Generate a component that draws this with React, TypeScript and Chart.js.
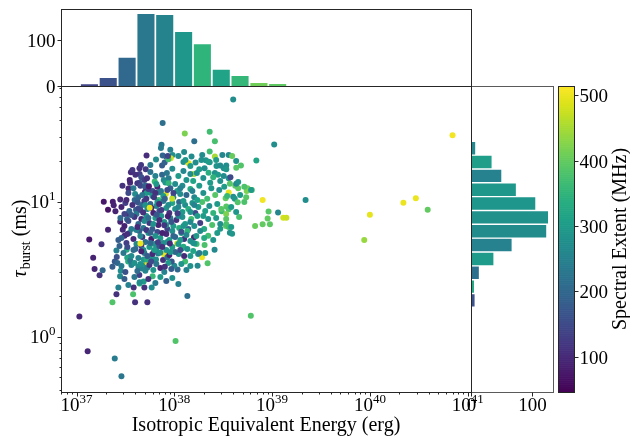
import React, { useEffect, useRef } from "react";
import { Chart, registerables } from "chart.js";

Chart.register(...registerables);

// ---------------- data ----------------
// [isotropic equivalent energy (erg), tau_burst (ms), spectral extent (MHz)]
const bursts: [number, number, number][] = [
  [40e37, 57, 275], [7.6e37, 38.3, 215], [12.8e37, 32, 420], [23e37, 33, 370], [16e37, 28, 215],
  [26e37, 28, 375], [105e37, 26.5, 275], [5.2e37, 22, 105], [7.4e37, 26.4, 235], [7.3e37, 25.0, 240],
  [23e37, 23.5, 370], [9.6e37, 22.2, 280], [11e37, 21.8, 270], [9.2e37, 21, 480], [6.5e37, 20.5, 270],
  [7.6e37, 22, 200], [8.3e37, 21.5, 190], [26e37, 21.6, 450], [31e37, 22.2, 260], [36e37, 22.2, 265],
  [39e37, 21.8, 405], [69e37, 20.2, 320], [12.4e37, 19.7, 280], [14e37, 19.3, 490], [16.5e37, 19.5, 275],
  [21e37, 20.3, 285], [23e37, 19.6, 300], [27e37, 18.4, 290], [48e37, 18.5, 385], [43e37, 17.8, 390],
  [32e37, 17.7, 280], [29.5e37, 18.5, 270], [3.6e37, 16.5, 100], [4.4e37, 17.7, 110], [5.1e37, 17.4, 125],
  [15.9e37, 16.0, 455], [36e37, 14.9, 280], [42e37, 13.1, 390], [45e37, 12.6, 395], [56e37, 12.6, 410],
  [62e37, 12.2, 380], [55e37, 12.0, 420], [80e37, 10.3, 505], [220e37, 10.3, 275], [115e37, 8.3, 260],
  [92e37, 8.45, 390], [90e37, 7.5, 400], [95e37, 6.8, 395], [130e37, 7.6, 480], [140e37, 7.6, 475],
  [67e37, 6.6, 405], [80e37, 6.8, 400], [46e37, 7.7, 380], [29.5e37, 6.3, 300], [37e37, 5.9, 280],
  [39e37, 5.8, 290], [3.4e37, 12.5, 95], [1.9e37, 10.0, 75], [2.35e37, 10.0, 85], [2.8e37, 10.4, 100],
  [2.4e37, 9.4, 90], [2.1e37, 8.7, 70], [2.5e37, 8.5, 90], [2.8e37, 7.1, 95], [2.1e37, 6.2, 90],
  [1.35e37, 5.25, 75], [1.8e37, 4.84, 110], [1.48e37, 3.85, 90], [1.53e37, 3.18, 95], [1.72e37, 2.85, 110],
  [1.85e37, 3.1, 200], [1.07e37, 1.41, 95], [1.3e37, 0.78, 95], [2.46e37, 0.69, 240], [2.88e37, 0.51, 230],
  [2.33e37, 1.8, 385], [2.56e37, 2.06, 110], [2.68e37, 2.31, 250], [3.84e37, 2.31, 110], [3.79e37, 2.06, 380],
  [3.97e37, 1.8, 110], [4.94e37, 2.31, 110], [5.3e37, 1.8, 110], [5.87e37, 2.31, 270], [4.42e37, 2.48, 330],
  [4.86e37, 2.56, 300], [10.3e37, 0.93, 385], [13.6e37, 2.0, 215], [60.6e37, 1.43, 385],
  [7.0e40, 31, 505], [1.0e40, 8.0, 495], [8.75e39, 5.2, 440], [2.2e40, 9.8, 500], [2.95e40, 10.6, 500],
  [3.9e40, 8.7, 400],
  [2.97e37, 6.2, 100], [3.1e37, 5.6, 105], [2.33e37, 3.3, 180], [2.46e37, 3.6, 175], [2.58e37, 3.9, 160],
  [2.56e37, 4.35, 250], [2.83e37, 3.08, 270], [2.79e37, 2.8, 265], [3.26e37, 4.4, 330], [3.47e37, 3.88, 60],
  [3.3e37, 3.85, 320], [3.37e37, 3.6, 340], [4.39e37, 2.86, 130], [4.42e37, 2.53, 270], [5.06e37, 3.08, 260],
  [6.0e37, 2.8, 360], [4.3e37, 3.3, 270], [4.7e37, 3.2, 250], [5.0e37, 3.4, 280], [5.3e37, 3.25, 240],
  [5.3e37, 3.55, 490], [3.64e37, 3.4, 250], [3.55e37, 3.67, 230], [4.5e37, 3.45, 280], [4.86e37, 3.73, 300],
  [5.22e37, 3.73, 330], [5.92e37, 3.85, 290], [6.2e37, 4.3, 300], [7.85e37, 4.08, 495], [7.67e37, 3.7, 110],
  [6.5e37, 3.73, 270], [6.82e37, 4.14, 250], [7.2e37, 4.2, 280],
  [19.2e37, 3.88, 500], [21.9e37, 3.5, 385], [17.3e37, 3.35, 265], [25.8e37, 4.4, 265], [12.9e37, 3.6, 370],
  [10.8e37, 3.15, 200], [10e37, 3.35, 260], [9.4e37, 3.6, 170], [8.5e37, 3.88, 220], [11.1e37, 4.1, 280],
  [12e37, 4.5, 300], [12.4e37, 4.64, 330], [17.5e37, 4.1, 280], [18e37, 4.17, 240], [16.9e37, 4.85, 370],
  [16.1e37, 4.9, 300], [20.4e37, 4.77, 380], [22.2e37, 5.6, 370], [15.9e37, 5.45, 100], [10.7e37, 4.9, 480],
  [33.7e37, 6.6, 400],
  [4.57e37, 18.7, 120], [7.5e37, 18.5, 180], [7.96e37, 19.5, 190], [8.7e37, 20.6, 370], [4.42e37, 16.0, 130],
  [4.6e37, 15.2, 160], [4.94e37, 14.5, 130], [5.26e37, 14.9, 110], [4.42e37, 13.8, 170], [4.19e37, 13.7, 120],
  [4.5e37, 13.1, 140], [5.06e37, 13.2, 200], [5.06e37, 12.8, 180], [3.53e37, 13.8, 100], [3.97e37, 11.4, 270],
  [6.3e37, 14.1, 360], [7.5e37, 15.8, 200], [8.4e37, 16.3, 230], [7.8e37, 14.5, 260], [8.75e37, 14.9, 240],
  [8.1e37, 13.9, 290], [8.75e37, 13.7, 350], [8.2e37, 11.4, 490], [3.34e37, 8.1, 110], [3.29e37, 7.4, 200],
  [3.93e37, 10.3, 200], [4.22e37, 9.9, 170], [4.06e37, 8.7, 180], [4.32e37, 8.95, 150], [4.68e37, 9.45, 200],
  [5.0e37, 11.8, 100], [5.2e37, 11.6, 300], [5.7e37, 11.7, 280], [6.0e37, 12.0, 160], [6.8e37, 11.7, 310],
  [7.3e37, 12.0, 250], [6.9e37, 10.3, 370],
  [8.6e37, 21.8, 140], [15e37, 21.6, 270], [18.9e37, 20.4, 280], [22.4e37, 19.8, 300], [13e37, 20.4, 290],
  [34e37, 18.5, 270], [34e37, 17.4, 290], [17e37, 16.3, 280], [18e37, 17.4, 300], [20.4e37, 17.7, 270],
  [22.4e37, 16.4, 340], [26e37, 16.3, 280], [28e37, 15.8, 300], [32e37, 15.5, 270], [37.5e37, 15.2, 150],
  [43e37, 13.6, 260], [45e37, 14.0, 280], [37e37, 13.6, 390], [52e37, 12.9, 380], [61e37, 12.2, 300],
  [36e37, 11.7, 495], [40e37, 10.9, 270], [41.5e37, 10.5, 290], [33.5e37, 10.6, 400], [52e37, 9.95, 380],
  [44.5e37, 9.9, 385], [34e37, 9.2, 390], [36e37, 8.8, 380], [30.5e37, 8.5, 360], [34e37, 6.8, 380],
  [36e37, 6.5, 370],
  [2.95e37, 13.1, 110], [3.39e37, 11.6, 150], [3.82e37, 12.6, 230], [4.29e37, 10.8, 200], [5.43e37, 12.4, 130],
  [5.96e37, 11.0, 290], [6.71e37, 12.9, 100], [7.2e37, 11.8, 230], [9.1e37, 12.6, 190], [9.77e37, 10.8, 260],
  [10.7e37, 12.0, 300], [12.1e37, 13.1, 270], [13.3e37, 11.2, 200], [14.6e37, 12.4, 330], [16e37, 10.8, 260],
  [18e37, 13.1, 300], [19.8e37, 11.6, 280], [21.7e37, 10.5, 370], [23.9e37, 12.6, 290], [26.2e37, 11.2, 390],
  [28.8e37, 12.2, 270], [32.4e37, 12.9, 300], [34.7e37, 11.0, 360], [47.1e37, 11.2, 300], [54.3e37, 10.8, 390],
  [2.88e37, 9.14, 90], [3.16e37, 9.78, 130], [3.47e37, 8.54, 200], [3.73e37, 9.45, 110], [4.1e37, 8.11, 240],
  [4.94e37, 10.1, 120], [5.3e37, 8.83, 270], [5.69e37, 9.61, 200], [6.1e37, 8.25, 90], [6.55e37, 9.29, 260],
  [7.03e37, 8.54, 160], [7.72e37, 10.1, 230], [8.28e37, 8.98, 290], [8.89e37, 8.25, 110], [9.54e37, 9.78, 320],
  [10.2e37, 8.83, 280], [11.2e37, 9.95, 200], [12.1e37, 8.4, 300], [12.9e37, 9.45, 270], [13.9e37, 8.83, 340],
  [15.3e37, 9.78, 290], [16.4e37, 8.25, 150], [17.6e37, 9.14, 300], [19.3e37, 9.95, 380], [20.7e37, 8.54, 310],
  [22.8e37, 9.29, 280], [25e37, 8.25, 350], [27.5e37, 9.61, 300], [30.2e37, 8.83, 390], [33.9e37, 8.11, 420],
  [38.2e37, 9.14, 300], [42.9e37, 8.4, 290],
  [2.81e37, 7.57, 210], [3.09e37, 6.61, 90], [3.39e37, 7.2, 160], [3.64e37, 6.28, 240], [3.91e37, 7.7, 120],
  [4.29e37, 6.84, 200], [4.6e37, 7.45, 100], [4.83e37, 6.39, 230], [5.18e37, 7.84, 280], [5.56e37, 6.96, 120],
  [5.96e37, 6.28, 180], [6.4e37, 7.57, 300], [6.87e37, 6.72, 90], [7.37e37, 7.84, 280], [7.9e37, 7.08, 290],
  [8.48e37, 6.28, 140], [9.1e37, 7.57, 230], [9.77e37, 6.61, 300], [10.5e37, 7.32, 110], [11.2e37, 6.39, 340],
  [12.1e37, 7.7, 280], [12.9e37, 6.84, 300], [13.9e37, 6.28, 200], [14.9e37, 7.45, 370], [16e37, 6.61, 280],
  [17.2e37, 7.84, 300], [18.4e37, 6.96, 130], [20.2e37, 6.28, 330], [22.2e37, 7.45, 280], [24.4e37, 6.72, 380],
  [26.8e37, 7.57, 300], [29.5e37, 6.84, 280], [33.9e37, 7.45, 390], [38.2e37, 6.5, 300],
  [2.88e37, 5.39, 200], [3.24e37, 4.95, 130], [3.47e37, 5.87, 240], [3.82e37, 5.3, 100], [4.1e37, 4.86, 260],
  [4.39e37, 6.07, 180], [4.71e37, 5.48, 110], [5.06e37, 5.03, 220], [5.43e37, 5.87, 290], [5.82e37, 5.3, 80],
  [6.25e37, 4.86, 280], [6.71e37, 5.97, 150], [7.2e37, 5.39, 300], [7.72e37, 4.95, 270], [8.28e37, 5.77, 100],
  [8.89e37, 5.21, 310], [9.54e37, 6.07, 280], [10.2e37, 5.48, 190], [11e37, 4.86, 290], [11.8e37, 5.87, 300],
  [12.6e37, 5.3, 120], [13.6e37, 6.07, 350], [14.6e37, 5.12, 280], [16.8e37, 5.57, 300], [18.4e37, 6.07, 270],
  [20.2e37, 5.39, 330], [25e37, 5.21, 290], [27.5e37, 5.87, 300],
  [2.75e37, 4.7, 190], [3.02e37, 4.17, 230], [3.31e37, 4.62, 150], [3.64e37, 3.96, 270], [4.0e37, 4.46, 200],
  [4.29e37, 3.83, 250], [4.6e37, 4.7, 130], [4.94e37, 4.17, 220], [5.56e37, 4.62, 300], [5.96e37, 4.1, 100],
  [6.55e37, 4.46, 280], [7.03e37, 4.7, 170], [8.28e37, 4.39, 290], [8.89e37, 4.03, 90], [9.54e37, 4.62, 300],
  [10.2e37, 4.24, 200], [13.6e37, 4.46, 280], [14.6e37, 3.96, 300], [15.6e37, 4.31, 320], [20.7e37, 4.17, 290],
  [2.62e37, 3.52, 200], [2.88e37, 3.34, 240], [3.16e37, 3.02, 160], [3.91e37, 3.52, 280], [4.19e37, 3.07, 210],
  [5.56e37, 3.4, 120], [6.1e37, 3.12, 290], [6.55e37, 3.46, 230], [7.2e37, 3.23, 90], [7.9e37, 3.02, 250],
  [8.68e37, 3.52, 300], [9.32e37, 3.17, 180], [11.8e37, 3.46, 290], [13.3e37, 3.12, 250], [14.6e37, 3.34, 280],
  [3.09e37, 2.68, 180], [3.39e37, 2.42, 250], [3.91e37, 2.77, 230], [5.43e37, 2.68, 110], [6.4e37, 2.5, 240],
  [7.2e37, 2.77, 300], [8.28e37, 2.59, 190], [9.54e37, 2.72, 280], [11e37, 2.46, 250],
  [3.73e37, 17.2, 120], [5.69e37, 16.6, 220], [6.4e37, 15.5, 250], [9.54e37, 17.5, 270], [11e37, 15.5, 300],
  [12.4e37, 16.9, 260], [13.3e37, 14.5, 290], [14.6e37, 16.0, 270], [15.6e37, 14.2, 320], [19.8e37, 15.0, 280],
  [23.3e37, 13.8, 300], [25e37, 15.2, 350], [29.5e37, 14.2, 280], [6.55e37, 13.5, 300], [10.2e37, 13.5, 270],
  [11.5e37, 12.6, 250],
  [9.1e37, 24.2, 250], [12.6e37, 23.3, 270], [14.6e37, 18.4, 300], [19.3e37, 22.2, 270], [26.8e37, 20.4, 300],
  [42.9e37, 20.0, 280], [5.69e37, 18.7, 240],
  [4.71e37, 11.2, 230], [5.18e37, 10.5, 120], [6.4e37, 11.6, 110], [7.72e37, 11.0, 300], [8.48e37, 12.2, 150],
  [11.5e37, 11.4, 270], [15.3e37, 12.0, 250], [17.2e37, 10.3, 310], [4.5e37, 8.68, 150], [5.06e37, 9.45, 280],
  [5.82e37, 8.98, 90], [6.71e37, 9.95, 290], [7.37e37, 8.68, 130], [8.68e37, 9.45, 270], [11e37, 9.14, 260],
  [12.4e37, 10.1, 300], [14.6e37, 8.4, 280], [16e37, 9.45, 250], [4.94e37, 7.2, 270], [5.43e37, 7.57, 210],
  [6.1e37, 6.84, 280], [7.03e37, 7.32, 100], [8.28e37, 6.72, 300], [9.32e37, 7.08, 170], [11e37, 7.84, 250],
  [12.4e37, 6.61, 290], [14.6e37, 7.08, 260], [19.8e37, 7.84, 300], [4.5e37, 5.57, 260], [5.18e37, 6.17, 120],
  [5.69e37, 4.95, 200], [6.4e37, 5.57, 280], [7.54e37, 5.87, 90], [8.48e37, 5.03, 280], [9.77e37, 5.57, 200],
  [11.5e37, 5.21, 300], [13.3e37, 5.67, 260], [15.6e37, 4.95, 280], [4.83e37, 4.39, 270], [5.3e37, 3.96, 180],
  [6.25e37, 4.39, 300], [7.54e37, 4.62, 110], [9.1e37, 4.24, 290], [11.5e37, 4.39, 150], [12.6e37, 3.96, 100],
  [3.24e37, 10.3, 100], [3.64e37, 7.97, 180], [3.31e37, 5.77, 110], [3.82e37, 4.39, 210], [4.1e37, 6.17, 250],
  [3.09e37, 8.11, 140], [2.68e37, 5.21, 180],
  [3.5e37, 14.5, 90], [4.0e37, 15.8, 110], [5.5e37, 13.0, 80], [6.2e37, 10.8, 120], [7.0e37, 9.6, 100],
  [8.0e37, 10.5, 190], [9.8e37, 11.6, 140], [4.8e37, 8.3, 110], [6.6e37, 8.0, 170], [8.6e37, 7.8, 90],
  [10.8e37, 8.2, 130], [4.2e37, 6.5, 100], [5.7e37, 5.9, 190], [7.9e37, 6.7, 120], [11.8e37, 6.0, 160],
  [4.6e37, 4.3, 90], [6.8e37, 5.0, 130], [9.0e37, 4.9, 100], [5.8e37, 3.6, 150], [8.0e37, 3.3, 110],
  [5.6e37, 9.0, 495], [9.5e37, 10.5, 470], [4.5e37, 4.9, 500],
];

// top histogram (log-spaced energy bins)
const energyBinCenters = [
  1.355e37, 2.11e37, 3.29e37, 5.13e37, 7.98e37, 1.245e38, 1.936e38, 3.02e38, 4.7e38, 7.33e38,
  1.14e39, 1.78e39, 2.75e39, 4.37e39, 6.76e39, 1.05e40, 1.62e40, 2.57e40, 3.98e40, 6.17e40,
];
const energyCounts = [5, 19, 63, 158, 156, 119, 92, 37, 23, 8, 6, 0, 0, 0, 0, 0, 0, 0, 0, 0];
const energyBinColors = [
  "#414487", "#3b528b", "#31688e", "#2a788e", "#25838e", "#1f978b", "#2fb47c", "#20a386", "#35b779", "#6ece58",
  "#5ec962", "#21918c", "#21918c", "#21918c", "#21918c", "#c2df23", "#21918c", "#fde725", "#addc30", "#fde725",
];

// right histogram (log-spaced tau bins)
const tauBinCenters = [
  0.57, 0.723, 0.914, 1.159, 1.466, 1.858, 2.35, 2.979, 3.767, 4.775,
  6.039, 7.656, 9.683, 12.27, 15.52, 19.68, 24.89, 31.55, 39.9, 50.58,
];
const tauCounts = [2, 2, 1, 0, 2, 7, 6, 14, 38, 68, 125, 128, 107, 75, 51, 35, 8, 2, 1, 1];
const tauBinColors = [
  "#2c728e", "#3b528b", "#5ec962", "#21918c", "#7ad151", "#3b528b", "#22a884", "#2d708e", "#1e9b8a", "#26828e",
  "#228c8d", "#21918c", "#1f968b", "#1f988b", "#26828e", "#1f9e89", "#23898e", "#b5de2b", "#2a788e", "#21918c",
];

const xTickExponents = [37, 38, 39, 40, 41];
const yTickExponents = [0, 1];
const histTicks = [0, 100];
const colorbarTicks = [100, 200, 300, 400, 500];

// axis ranges
const E_MIN = 6.94e36;
const E_MAX = 1.081e41;
const TAU_MIN = 0.3896;
const TAU_MAX = 71.9;
const TOP_COUNT_MAX = 167.4;
const SIDE_COUNT_MAX = 135.1;
const EXT_MIN = 46;
const EXT_MAX = 514;

// ---------------- layout / style ----------------
const W = 630;
const H = 437;
type Box = { left: number; top: number; right: number; bottom: number };
const MAIN: Box = { left: 61, top: 86, right: 471, bottom: 392 };
const TOP: Box = { left: 61, top: 9, right: 471, bottom: 86 };
const SIDE: Box = { left: 471, top: 86, right: 553, bottom: 392 };
const CBAR: Box = { left: 558, top: 86, right: 574, bottom: 392 };

const SERIF = '"Liberation Serif", "Times New Roman", Times, serif';
const TICK_FONT = 19;
const SUP_FONT = 13;
const LABEL_FONT = 20;
const FRAME = "#262626";

const pad = (b: Box) => ({ left: b.left, top: b.top, right: W - b.right, bottom: H - b.bottom });

const VIRIDIS = [
  "#440154", "#48186a", "#472d7b", "#424086", "#3b528b", "#33638d", "#2c728e", "#26828e", "#21918c",
  "#1fa088", "#28ae80", "#3fbc73", "#5ec962", "#84d44b", "#addc30", "#d8e219", "#fde725",
];
function hexRgb(h: string) {
  return [parseInt(h.slice(1, 3), 16), parseInt(h.slice(3, 5), 16), parseInt(h.slice(5, 7), 16)];
}
function viridis(t: number): string {
  const tt = Math.max(0, Math.min(1, t));
  const n = VIRIDIS.length - 1;
  const i = Math.min(n - 1, Math.floor(tt * n));
  const f = tt * n - i;
  const a = hexRgb(VIRIDIS[i]);
  const b = hexRgb(VIRIDIS[i + 1]);
  const c = a.map((v, k) => Math.round(v + (b[k] - v) * f));
  return `rgb(${c[0]},${c[1]},${c[2]})`;
}
const extColor = (v: number) => viridis((v - EXT_MIN) / (EXT_MAX - EXT_MIN));

function seg(ctx: CanvasRenderingContext2D, x1: number, y1: number, x2: number, y2: number) {
  ctx.beginPath();
  ctx.moveTo(x1, y1);
  ctx.lineTo(x2, y2);
  ctx.stroke();
}
const crisp = (v: number) => Math.round(v) + 0.5;

function drawPow(ctx: CanvasRenderingContext2D, exp: string, x: number, baseline: number, align: "center" | "right") {
  ctx.font = `${TICK_FONT}px ${SERIF}`;
  const bw = ctx.measureText("10").width;
  ctx.font = `${SUP_FONT}px ${SERIF}`;
  const ew = ctx.measureText(exp).width;
  const total = bw + ew;
  const x0 = align === "center" ? x - total / 2 : x - total;
  ctx.textAlign = "left";
  ctx.textBaseline = "alphabetic";
  ctx.font = `${TICK_FONT}px ${SERIF}`;
  ctx.fillText("10", x0, baseline);
  ctx.font = `${SUP_FONT}px ${SERIF}`;
  ctx.fillText(exp, x0 + bw, baseline - 8);
}

function frame(ctx: CanvasRenderingContext2D, a: { left: number; top: number; right: number; bottom: number }, color = FRAME) {
  ctx.strokeStyle = color;
  ctx.lineWidth = 1;
  ctx.strokeRect(crisp(a.left), crisp(a.top), Math.round(a.right) - Math.round(a.left), Math.round(a.bottom) - Math.round(a.top));
}

const mainAxesPlugin = {
  id: "mainAxes",
  afterDraw(chart: any) {
    const { ctx, chartArea: a } = chart;
    const xs = chart.scales.x;
    const ys = chart.scales.y;
    ctx.save();
    frame(ctx, a);
    ctx.fillStyle = "#000";
    ctx.strokeStyle = FRAME;
    const B = crisp(a.bottom);
    const L = crisp(a.left);
    for (let e = 36; e <= 41; e++) {
      for (let m = 1; m <= 9; m++) {
        const v = m * Math.pow(10, e);
        if (v < xs.min * 0.999 || v > xs.max * 1.001) continue;
        const px = crisp(xs.getPixelForValue(v));
        seg(ctx, px, B, px, B + (m === 1 ? 4 : 2));
      }
    }
    xTickExponents.forEach((e) => {
      const px = xs.getPixelForValue(Math.pow(10, e));
      drawPow(ctx, String(e), px, 411, "center");
    });
    for (let e = -1; e <= 1; e++) {
      for (let m = 1; m <= 9; m++) {
        const v = m * Math.pow(10, e);
        if (v < ys.min || v > ys.max) continue;
        const py = crisp(ys.getPixelForValue(v));
        seg(ctx, L - (m === 1 ? 4 : 2), py, L, py);
      }
    }
    yTickExponents.forEach((e) => {
      const py = ys.getPixelForValue(Math.pow(10, e));
      drawPow(ctx, String(e), L - 6, py + 6.5, "right");
    });
    // x title
    ctx.font = `${LABEL_FONT}px ${SERIF}`;
    ctx.textAlign = "center";
    ctx.textBaseline = "alphabetic";
    ctx.fillText("Isotropic Equivalent Energy (erg)", (a.left + a.right) / 2, 431);
    // y title (tau_burst (ms))
    ctx.save();
    ctx.translate(26, (a.top + a.bottom) / 2);
    ctx.rotate(-Math.PI / 2);
    ctx.textAlign = "left";
    const fTau = `italic ${LABEL_FONT}px ${SERIF}`;
    const fSub = `14px ${SERIF}`;
    const fRest = `${LABEL_FONT}px ${SERIF}`;
    ctx.font = fTau;
    const w1 = ctx.measureText("τ").width;
    ctx.font = fSub;
    const w2 = ctx.measureText("burst").width;
    ctx.font = fRest;
    const w3 = ctx.measureText(" (ms)").width;
    let x0 = -(w1 + w2 + w3) / 2;
    ctx.font = fTau;
    ctx.fillText("τ", x0, 0);
    x0 += w1 + 1;
    ctx.font = fSub;
    ctx.fillText("burst", x0, 4);
    x0 += w2;
    ctx.font = fRest;
    ctx.fillText(" (ms)", x0, 0);
    ctx.restore();
    ctx.restore();
  },
};

const topAxesPlugin = {
  id: "topAxes",
  afterDraw(chart: any) {
    const { ctx, chartArea: a } = chart;
    const ys = chart.scales.y;
    ctx.save();
    frame(ctx, a);
    ctx.fillStyle = "#000";
    ctx.font = `${TICK_FONT}px ${SERIF}`;
    ctx.textAlign = "right";
    ctx.textBaseline = "alphabetic";
    const L = crisp(a.left);
    histTicks.forEach((t) => {
      const py = crisp(ys.getPixelForValue(t));
      seg(ctx, L - 4, py, L, py);
      ctx.fillText(String(t), L - 6, py + 6.5);
    });
    ctx.restore();
  },
};

const sideAxesPlugin = {
  id: "sideAxes",
  afterDraw(chart: any) {
    const { ctx, chartArea: a } = chart;
    const xs = chart.scales.x;
    ctx.save();
    frame(ctx, a, "#5a5a5a");
    ctx.strokeStyle = FRAME;
    seg(ctx, crisp(a.left), a.top - 77, crisp(a.left), a.bottom + 1);
    ctx.fillStyle = "#000";
    ctx.font = `${TICK_FONT}px ${SERIF}`;
    ctx.textAlign = "center";
    ctx.textBaseline = "alphabetic";
    const B = crisp(a.bottom);
    histTicks.forEach((t) => {
      const px = crisp(xs.getPixelForValue(t));
      seg(ctx, px, B, px, B + 4);
      ctx.fillText(String(t), px, 411);
    });
    ctx.restore();
  },
};

const colorbarPlugin = {
  id: "colorbar",
  beforeDatasetsDraw(chart: any) {
    const { ctx, chartArea: a } = chart;
    const ys = chart.scales.y;
    ctx.save();
    for (let v = EXT_MIN; v < EXT_MAX; v += 1) {
      const y1 = ys.getPixelForValue(v);
      const y2 = ys.getPixelForValue(Math.min(EXT_MAX, v + 1));
      ctx.fillStyle = extColor(v + 0.5);
      ctx.fillRect(a.left, y2, a.right - a.left, y1 - y2 + 0.6);
    }
    ctx.restore();
  },
  afterDraw(chart: any) {
    const { ctx, chartArea: a } = chart;
    const ys = chart.scales.y;
    ctx.save();
    frame(ctx, a);
    ctx.fillStyle = "#000";
    ctx.font = `${TICK_FONT}px ${SERIF}`;
    ctx.textAlign = "left";
    ctx.textBaseline = "alphabetic";
    const R = Math.round(a.right) + 0.5;
    colorbarTicks.forEach((t) => {
      const py = crisp(ys.getPixelForValue(t));
      seg(ctx, R, py, R + 4, py);
      ctx.fillText(String(t), R + 5, py + 6.5);
    });
    ctx.save();
    ctx.translate(626, (a.top + a.bottom) / 2);
    ctx.rotate(-Math.PI / 2);
    ctx.font = `${LABEL_FONT}px ${SERIF}`;
    ctx.textAlign = "center";
    ctx.fillText("Spectral Extent (MHz)", 0, 0);
    ctx.restore();
    ctx.restore();
  },
};

const baseOptions = (box: Box) => ({
  animation: false as const,
  responsive: false,
  devicePixelRatio: 1,
  events: [] as any[],
  layout: { padding: pad(box) },
  plugins: { legend: { display: false }, tooltip: { enabled: false } },
});

const clearTicks = (scale: any) => {
  scale.ticks = [];
};

export default function App() {
  const topRef = useRef<HTMLCanvasElement>(null);
  const mainRef = useRef<HTMLCanvasElement>(null);
  const sideRef = useRef<HTMLCanvasElement>(null);
  const cbarRef = useRef<HTMLCanvasElement>(null);

  useEffect(() => {
    const charts: Chart[] = [];
    charts.push(
      new Chart(mainRef.current!, {
        type: "scatter",
        data: {
          datasets: [
            {
              data: bursts.map((b) => ({ x: b[0], y: b[1] })),
              pointRadius: 3,
              pointHoverRadius: 3,
              pointBorderWidth: 0,
              pointBackgroundColor: bursts.map((b) => extColor(b[2])),
              pointBorderColor: "rgba(0,0,0,0)",
            },
          ],
        },
        options: {
          ...baseOptions(MAIN),
          scales: {
            x: { type: "logarithmic", min: E_MIN, max: E_MAX, display: false },
            y: { type: "logarithmic", min: TAU_MIN, max: TAU_MAX, display: false },
          },
        } as any,
        plugins: [mainAxesPlugin],
      })
    );
    charts.push(
      new Chart(topRef.current!, {
        type: "bar",
        data: {
          datasets: [
            {
              data: energyBinCenters.map((c, i) => ({ x: c, y: energyCounts[i] })),
              backgroundColor: energyBinColors,
              borderColor: "rgba(255,255,255,0.65)",
              borderWidth: 1,
              barPercentage: 1,
              categoryPercentage: 1,
            },
          ],
        },
        options: {
          ...baseOptions(TOP),
          scales: {
            x: {
              type: "logarithmic",
              min: E_MIN,
              max: E_MAX,
              display: false,
              offset: false,
              grid: { offset: false },
              afterBuildTicks: clearTicks,
            },
            y: { type: "linear", min: 0, max: TOP_COUNT_MAX, display: false },
          },
        } as any,
        plugins: [topAxesPlugin],
      })
    );
    charts.push(
      new Chart(sideRef.current!, {
        type: "bar",
        data: {
          datasets: [
            {
              data: tauBinCenters.map((c, i) => ({ x: tauCounts[i], y: c })),
              backgroundColor: tauBinColors,
              borderColor: "rgba(255,255,255,0.65)",
              borderWidth: 1,
              barPercentage: 1,
              categoryPercentage: 1,
            },
          ],
        },
        options: {
          ...baseOptions(SIDE),
          indexAxis: "y",
          scales: {
            y: {
              type: "logarithmic",
              min: TAU_MIN,
              max: TAU_MAX,
              display: false,
              offset: false,
              grid: { offset: false },
              afterBuildTicks: clearTicks,
            },
            x: { type: "linear", min: 0, max: SIDE_COUNT_MAX, display: false },
          },
        } as any,
        plugins: [sideAxesPlugin],
      })
    );
    charts.push(
      new Chart(cbarRef.current!, {
        type: "scatter",
        data: { datasets: [] },
        options: {
          ...baseOptions(CBAR),
          scales: {
            x: { type: "linear", min: 0, max: 1, display: false },
            y: { type: "linear", min: EXT_MIN, max: EXT_MAX, display: false },
          },
        } as any,
        plugins: [colorbarPlugin],
      })
    );
    return () => charts.forEach((c) => c.destroy());
  }, []);

  const cv: React.CSSProperties = { position: "absolute", left: 0, top: 0, width: W, height: H };
  return (
    <div style={{ position: "absolute", left: 0, top: 0, width: W, height: H, background: "#fff" }}>
      <canvas ref={topRef} width={W} height={H} style={cv} />
      <canvas ref={sideRef} width={W} height={H} style={cv} />
      <canvas ref={cbarRef} width={W} height={H} style={cv} />
      <canvas ref={mainRef} width={W} height={H} style={cv} />
    </div>
  );
}
